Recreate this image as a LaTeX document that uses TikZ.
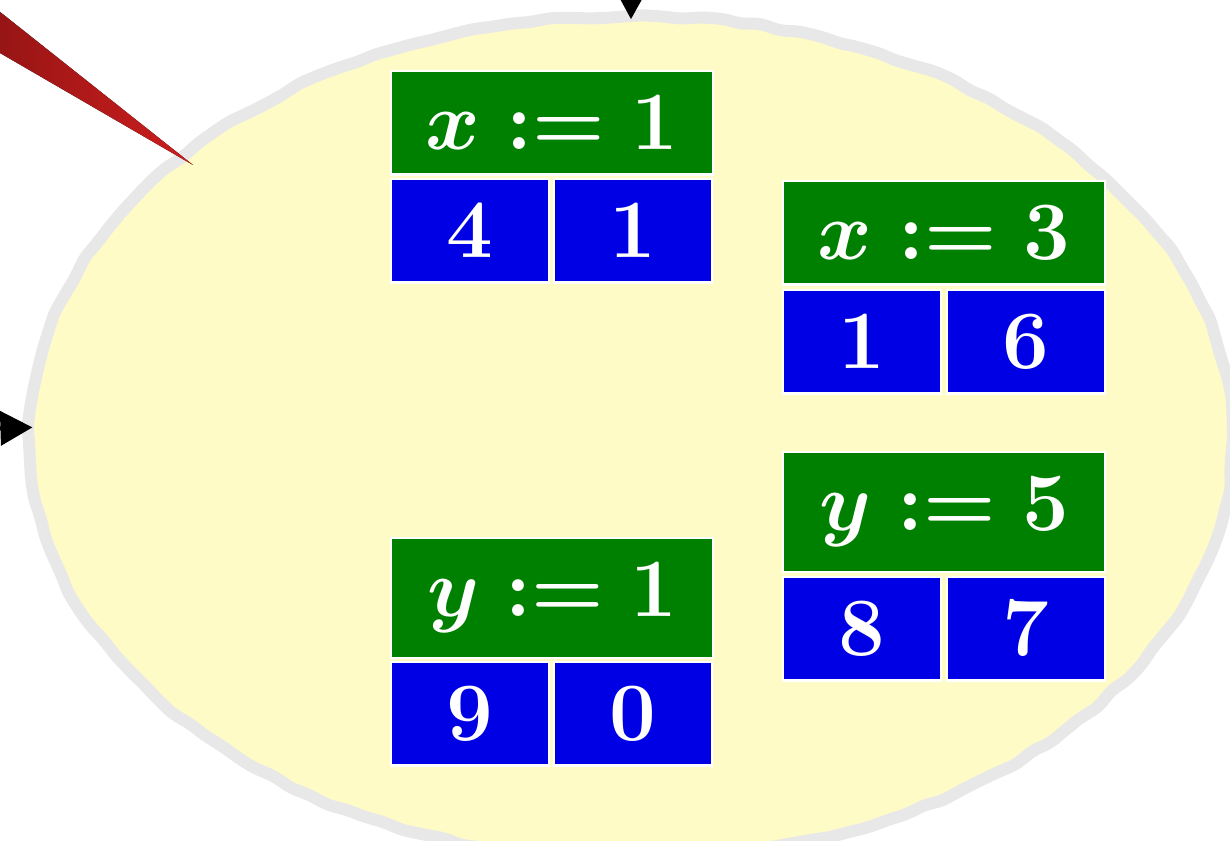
\documentclass[tikz,border=0pt]{standalone}
\usetikzlibrary{shapes.geometric,arrows.meta,decorations.pathmorphing}
\definecolor{ellfill}{RGB}{254,251,199}
\definecolor{ellline}{RGB}{232,232,232}
\definecolor{hdrgreen}{RGB}{0,128,0}
\definecolor{cellblue}{RGB}{0,0,228}
\definecolor{wedgedark}{RGB}{110,14,14}
\definecolor{wedgelight}{RGB}{205,30,30}
\begin{document}
\begin{tikzpicture}[x={(0.25pt,0pt)}, y={(0pt,-0.25pt)},
  box/.style={draw=white, line width=0.6pt, text=white, inner xsep=0pt, inner ysep=6.25pt,
    anchor=north west, font=\fontsize{20pt}{24pt}\selectfont\boldmath},
  hdr/.style={box, fill=hdrgreen, minimum width=80.5pt},
  cell/.style={box, fill=cellblue, minimum width=39.5pt},
  ptr/.style={-{Triangle[length=8pt,width=8.5pt]}, line width=1pt, black, shorten >=-0.8pt},
  region/.style={ellipse, draw=ellline, fill=ellfill, line width=3pt,
    minimum width=301pt, minimum height=211pt, inner sep=0pt, outer sep=0pt,
    decorate, decoration={random steps, segment length=5pt, amplitude=0.45pt}, rounded corners=1.5pt}]
\useasboundingbox (0,0) rectangle (1230,841);
\clip (0,0) rectangle (1230,841);
\pgfmathsetseed{7}
% region
\node[region] (E) at (631,438) {};
% incoming pointers (sources outside the view)
\coordinate (topsrc) at (632,-160);
\coordinate (leftsrc) at (-160,433);
\draw[ptr] (topsrc) -- (E.north);
\draw[ptr] (leftsrc) -- (E.179.5);
% red wedge
\coordinate (wtip) at (193,165);
\fill[left color=wedgedark, right color=wedgelight] (-150,-107) -- (-150,-34) -- (wtip) -- cycle;
% box A
\node[hdr] (hA) at (390,70) {$x := 1$};
\node[cell] (aL) at (390,178) {$4$};
\node[cell] (aR) at (553,178) {$1$};
% box B
\node[hdr] (hB) at (782,180) {$x := 3$};
\node[cell] (bL) at (782,289) {$1$};
\node[cell] (bR) at (946,289) {$6$};
% box C
\node[hdr] (hC) at (782,451) {$y := 5$};
\node[cell] (cL) at (782,576) {$8$};
\node[cell] (cR) at (946,576) {$7$};
% box D
\node[hdr] (hD) at (390,537) {$y := 1$};
\node[cell] (dL) at (390,661) {$9$};
\node[cell] (dR) at (553,661) {$0$};
\end{tikzpicture}
\end{document}
